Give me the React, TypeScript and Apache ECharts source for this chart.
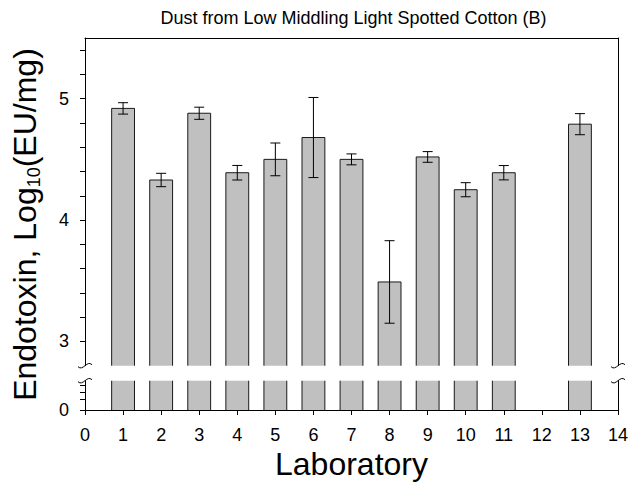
import React, { useEffect, useRef } from "react";
import * as echarts from "echarts";

// ---- data ----
const labs = [1, 2, 3, 4, 5, 6, 7, 8, 9, 10, 11, 13];
const means = [4.92, 4.33, 4.88, 4.39, 4.5, 4.68, 4.5, 3.49, 4.52, 4.25, 4.39, 4.79];
const errs = [0.047, 0.055, 0.05, 0.06, 0.135, 0.33, 0.045, 0.34, 0.044, 0.058, 0.059, 0.087];
const upperTicks = [3, 3.2, 3.4, 3.6, 3.8, 4, 4.2, 4.4, 4.6, 4.8, 5, 5.2, 5.4];
const upperLabels = [3, 4, 5];
const lowerTicks = [0, 0.375, 0.6, 0.83];
const lowerLabels = [0];

const TITLE = "Dust from Low Middling Light Spotted Cotton (B)";
const X_NAME = "Laboratory";

// ---- layout / style ----
const FONT = "'Liberation Sans', Arial, Helvetica, sans-serif";
const W = 632, H = 488;
const GL = 85, GR = 14;
const UP_TOP = 38, UP_H = 327.7;
const LO_TOP = 380.7, LO_H = 29.3;
const UPPER_MIN = 2.8, UPPER_MAX = 5.5;
const LOWER_MIN = 0, LOWER_MAX = 1;
const HALF = 0.3;
const CAP = 5;
const BAR_FILL = "#c0c0c0";
const EDGE = "#1a1a1a";

export default function App() {
  const ref = useRef<HTMLDivElement>(null);
  useEffect(() => {
    if (!ref.current) return;
    const chart = echarts.init(ref.current, null, { renderer: "svg" });
    const data = labs.map((x, i) => [x, means[i], errs[i]]);

    const hiddenAxis = {
      axisTick: { show: false },
      axisLabel: { show: false },
      splitLine: { show: false },
    };
    const lineStyle = { color: "#000", width: 1 };

    const upperRender = (params: any, api: any) => {
      const x = api.value(0), v = api.value(1), e = api.value(2);
      const tl = api.coord([x - HALF, v]);
      const br = api.coord([x + HALF, UPPER_MIN]);
      const t = api.coord([x, v + e]);
      const b = api.coord([x, v - e]);
      return {
        type: "group",
        children: [
          { type: "rect", shape: { x: tl[0], y: tl[1], width: br[0] - tl[0], height: br[1] - tl[1] }, style: { fill: BAR_FILL } },
          { type: "polyline", shape: { points: [[tl[0], br[1]], [tl[0], tl[1]], [br[0], tl[1]], [br[0], br[1]]] }, style: { stroke: EDGE, lineWidth: 1, fill: null } },
          { type: "line", shape: { x1: t[0], y1: t[1], x2: b[0], y2: b[1] }, style: { stroke: "#000", lineWidth: 1 } },
          { type: "line", shape: { x1: t[0] - CAP, y1: t[1], x2: t[0] + CAP, y2: t[1] }, style: { stroke: "#000", lineWidth: 1 } },
          { type: "line", shape: { x1: b[0] - CAP, y1: b[1], x2: b[0] + CAP, y2: b[1] }, style: { stroke: "#000", lineWidth: 1 } },
        ],
      };
    };
    const lowerRender = (params: any, api: any) => {
      const x = api.value(0);
      const tl = api.coord([x - HALF, LOWER_MAX]);
      const br = api.coord([x + HALF, LOWER_MIN]);
      return {
        type: "group",
        children: [
          { type: "rect", shape: { x: tl[0], y: tl[1], width: br[0] - tl[0], height: br[1] - tl[1] }, style: { fill: BAR_FILL } },
          { type: "line", shape: { x1: tl[0], y1: tl[1], x2: tl[0], y2: br[1] }, style: { stroke: EDGE, lineWidth: 1 } },
          { type: "line", shape: { x1: br[0], y1: tl[1], x2: br[0], y2: br[1] }, style: { stroke: EDGE, lineWidth: 1 } },
        ],
      };
    };

    const squiggle = (cx: number, cy: number) => ({
      type: "bezierCurve",
      shape: { x1: cx - 7, y1: cy + 1, cpx1: cx - 2, cpy1: cy + 6, cpx2: cx + 2, cpy2: cy - 6, x2: cx + 7, y2: cy - 1 },
      style: { stroke: "#000", lineWidth: 1, fill: null },
      z: 100,
    });
    const upBottom = UP_TOP + UP_H;
    const xRight = W - GR;

    chart.setOption({
      animation: false,
      textStyle: { fontFamily: FONT },
      grid: [
        { left: GL, right: GR, top: UP_TOP, height: UP_H },
        { left: GL, right: GR, top: LO_TOP, height: LO_H },
      ],
      xAxis: [
        {
          type: "value", gridIndex: 0, position: "top", min: 0, max: 14, interval: 1,
          axisLine: { show: true, onZero: false, lineStyle }, ...hiddenAxis,
        },
        {
          type: "value", gridIndex: 1, position: "bottom", min: 0, max: 14, interval: 1,
          axisLine: { show: true, onZero: false, lineStyle },
          axisTick: { show: true, inside: false, length: 5, lineStyle },
          axisLabel: { show: true, margin: 16, fontSize: 18, color: "#000", fontFamily: FONT },
          splitLine: { show: false },
          name: X_NAME, nameLocation: "middle", nameGap: 38,
          nameTextStyle: { fontSize: 32, color: "#000", fontFamily: FONT },
        },
      ],
      yAxis: [
        {
          type: "value", gridIndex: 0, position: "left", min: UPPER_MIN, max: UPPER_MAX,
          axisLine: { show: true, onZero: false, lineStyle },
          axisTick: { show: true, inside: false, length: 5, lineStyle, customValues: upperTicks },
          axisLabel: { show: true, margin: 16, fontSize: 18, color: "#000", fontFamily: FONT, customValues: upperLabels },
          splitLine: { show: false },
        },
        {
          type: "value", gridIndex: 0, position: "right", min: UPPER_MIN, max: UPPER_MAX,
          axisLine: { show: true, onZero: false, lineStyle }, ...hiddenAxis,
        },
        {
          type: "value", gridIndex: 1, position: "left", min: LOWER_MIN, max: LOWER_MAX,
          axisLine: { show: true, onZero: false, lineStyle },
          axisTick: { show: true, inside: false, length: 5, lineStyle, customValues: lowerTicks },
          axisLabel: { show: true, margin: 16, fontSize: 18, color: "#000", fontFamily: FONT, customValues: lowerLabels },
          splitLine: { show: false },
        },
        {
          type: "value", gridIndex: 1, position: "right", min: LOWER_MIN, max: LOWER_MAX,
          axisLine: { show: true, onZero: false, lineStyle }, ...hiddenAxis,
        },
      ],
      series: [
        { type: "custom", xAxisIndex: 0, yAxisIndex: 0, data, renderItem: upperRender, clip: false },
        { type: "custom", xAxisIndex: 1, yAxisIndex: 2, data, renderItem: lowerRender, clip: false },
      ],
      graphic: [
        {
          type: "text", x: 353.5, y: 18,
          style: { text: TITLE, font: `18px ${FONT}`, fill: "#000", align: "center", verticalAlign: "middle" },
        },
        {
          type: "text", x: 25, y: 224.5, rotation: Math.PI / 2,
          style: {
            text: "{a|Endotoxin, Log}{b|10}{a|(EU/mg)}",
            align: "center", verticalAlign: "middle", fill: "#000",
            rich: {
              a: { fontSize: 32, lineHeight: 32, fontFamily: FONT, fill: "#000", verticalAlign: "top" },
              b: { fontSize: 18, lineHeight: 18, fontFamily: FONT, fill: "#000", verticalAlign: "top", padding: [16, 0, 0, 0] },
            },
          },
        },
        squiggle(GL, upBottom),
        squiggle(GL, LO_TOP),
        squiggle(xRight, upBottom),
        squiggle(xRight, LO_TOP),
      ],
    });
    return () => chart.dispose();
  }, []);
  return (
    <div
      ref={ref}
      style={{ position: "fixed", left: 0, top: 0, width: W, height: H, background: "#fff" }}
    />
  );
}
